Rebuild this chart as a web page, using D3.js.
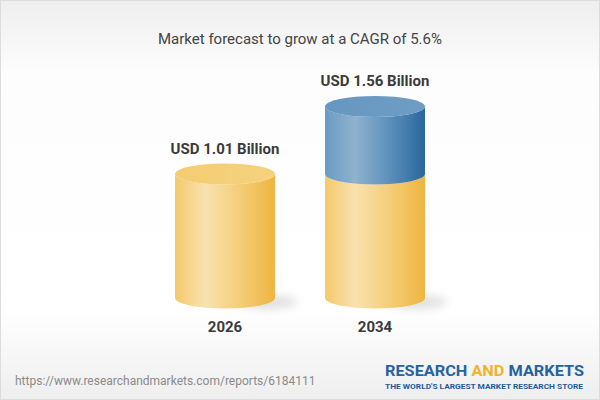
<!DOCTYPE html>
<html><head><meta charset="utf-8">
<script src="https://cdn.jsdelivr.net/npm/d3@7"></script>
<style>html,body{margin:0;padding:0;background:#fff;}svg{display:block;}</style>
</head><body>
<svg id="chart" width="600" height="400"></svg>
<script>
const title = "Market forecast to grow at a CAGR of 5.6%";
const years = ["2026", "2034"];
const values = [1.01, 1.56];
const valueLabels = ["USD 1.01 Billion", "USD 1.56 Billion"];
const sourceUrl = "https://www.researchandmarkets.com/reports/6184111";

const W = 600, H = 400;
const svg = d3.select("#chart");
const defs = svg.append("defs");

// background
const bg = defs.append("linearGradient").attr("id","bg").attr("x1",0).attr("y1",0).attr("x2",0).attr("y2",1);
[[0,"#eeeeee"],[0.18,"#fdfdfd"],[0.78,"#ffffff"],[1,"#eeeeee"]].forEach(([o,c])=>bg.append("stop").attr("offset",o).attr("stop-color",c));
svg.append("rect").attr("x",0.5).attr("y",0.5).attr("width",W-1).attr("height",H-1)
  .attr("fill","url(#bg)").attr("stroke","#dcdcdc");

function hGrad(id, stops){
  const g = defs.append("linearGradient").attr("id",id).attr("x1",0).attr("y1",0).attr("x2",1).attr("y2",0);
  stops.forEach(([o,c])=>g.append("stop").attr("offset",o).attr("stop-color",c));
}
hGrad("yel", [[0,"#f3c96a"],[0.3,"#f9e2b0"],[0.65,"#f4cd78"],[1,"#efb540"]]);
hGrad("blu", [[0,"#6a9bc3"],[0.3,"#8fb2ce"],[0.65,"#5b8fbb"],[1,"#2a679c"]]);
hGrad("yelTop", [[0,"#f4cc72"],[1,"#f6d27f"]]);
hGrad("bluTop", [[0,"#6797c0"],[1,"#6e9dc4"]]);
const blur = defs.append("filter").attr("id","blur").attr("x","-50%").attr("y","-50%").attr("width","200%").attr("height","200%");
blur.append("feGaussianBlur").attr("stdDeviation",5);

const x = d3.scaleBand().domain(years).range([150,450]).paddingInner(1/3).paddingOuter(1/6);
const y = d3.scaleLinear().domain([0, 1.56]).range([298, 106.5]);
const ry = 10.5;
const bw = x.bandwidth();

function body(cx, yTop, yBot){
  const l = cx - bw/2, r = cx + bw/2, rx = bw/2;
  return `M${l},${yTop} L${l},${yBot} A${rx},${ry} 0 0 0 ${r},${yBot} L${r},${yTop} A${rx},${ry} 0 0 1 ${l},${yTop} Z`;
}

const g = svg.append("g");
years.forEach((yr,i)=>{
  const cx = x(yr) + bw/2;
  // shadow
  g.append("ellipse").attr("cx",cx+bw/2-8).attr("cy",y(0)+4).attr("rx",30).attr("ry",7)
    .attr("fill","#000").attr("opacity",0.12).attr("filter","url(#blur)");
  const base = values[0];
  if (i === 0){
    g.append("path").attr("d",body(cx, y(values[i]), y(0))).attr("fill","url(#yel)");
    g.append("ellipse").attr("cx",cx).attr("cy",y(values[i])).attr("rx",bw/2).attr("ry",ry).attr("fill","url(#yelTop)");
  } else {
    g.append("path").attr("d",body(cx, y(base), y(0))).attr("fill","url(#yel)");
    g.append("path").attr("d",body(cx, y(values[i]), y(base))).attr("fill","url(#blu)");
    g.append("ellipse").attr("cx",cx).attr("cy",y(values[i])).attr("rx",bw/2).attr("ry",ry).attr("fill","url(#bluTop)");
  }
  g.append("text").attr("x",cx).attr("y",y(values[i]) - ry - 10)
    .attr("text-anchor","middle").attr("font-family","Roboto").attr("font-weight","bold")
    .attr("font-size",15).attr("fill","#3a3a3a").text(valueLabels[i]);
  g.append("text").attr("x",cx).attr("y",332)
    .attr("text-anchor","middle").attr("font-family","Roboto").attr("font-weight","bold")
    .attr("font-size",15).attr("fill","#3a3a3a").text(yr);
});

svg.append("text").attr("x",300).attr("y",44).attr("text-anchor","middle")
  .attr("font-family","Roboto").attr("font-size",15).attr("fill","#444").text(title);

svg.append("text").attr("x",15).attr("y",385).attr("font-family","Roboto").attr("font-size",12)
  .attr("fill","#8a8a8a").text(sourceUrl);

const logo = svg.append("text").attr("x",385).attr("y",376).attr("font-family","Roboto")
  .attr("font-weight","bold").attr("font-size",14.5).attr("textLength",199).attr("lengthAdjust","spacingAndGlyphs");
logo.append("tspan").attr("fill","#2563a0").text("RESEARCH ");
logo.append("tspan").attr("fill","#f0b429").text("AND");
logo.append("tspan").attr("fill","#2563a0").text(" MARKETS");
svg.append("text").attr("x",385).attr("y",389).attr("font-family","Roboto").attr("font-weight","bold")
  .attr("font-size",7.5).attr("fill","#1f5c96").attr("textLength",198).attr("lengthAdjust","spacingAndGlyphs")
  .text("THE WORLD'S LARGEST MARKET RESEARCH STORE");
</script>
</body></html>
